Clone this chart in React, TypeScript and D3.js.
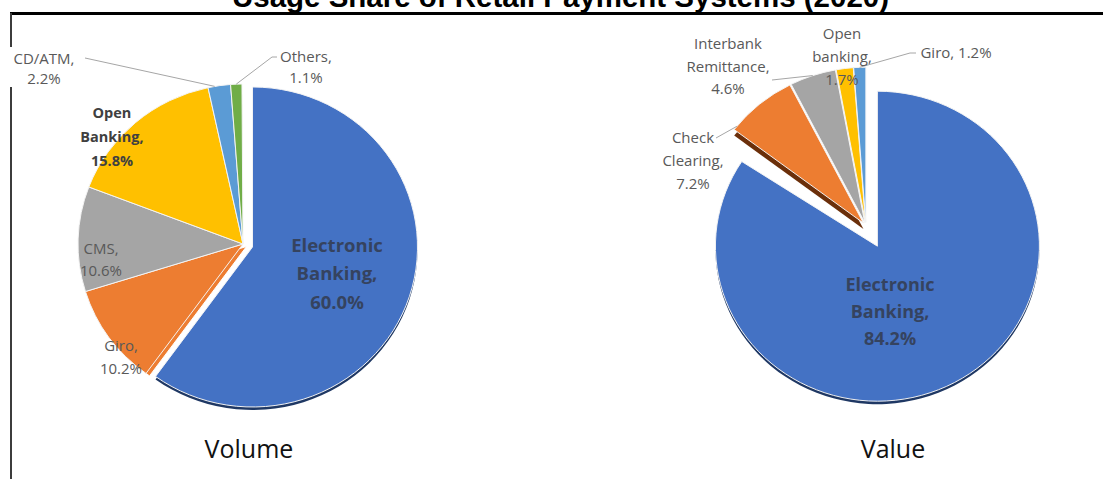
import React from 'react';
import * as d3 from 'd3';

// ---------- data ----------
const titleText = 'Usage Share of Retail Payment Systems (2020)';

const volumeCategories = ['Electronic Banking', 'Giro', 'CMS', 'Open Banking', 'CD/ATM', 'Others'];
const volumeValues = [60.0, 10.2, 10.6, 15.8, 2.2, 1.1];

const valueCategories = ['Electronic Banking', 'Check Clearing', 'Interbank Remittance', 'Open banking', 'Giro'];
const valueValues = [84.2, 7.2, 4.6, 1.7, 1.2];

const chartNames = ['Volume', 'Value'];

// ---------- styles / layout ----------
const palette: Record<string, string> = {
  'Electronic Banking': '#4472C4',
  Giro: '#5B9BD5',
  CMS: '#A5A5A5',
  'Open Banking': '#FFC000',
  'Open banking': '#FFC000',
  'CD/ATM': '#5B9BD5',
  Others: '#70AD47',
  'Check Clearing': '#ED7D31',
  'Interbank Remittance': '#A5A5A5',
};
const volumePalette: Record<string, string> = { ...palette, Giro: '#ED7D31' };

const FONT = '"Open Sans", "Noto Sans", sans-serif';

type LabelLayout = {
  x: number; y: number; gap: number; size: number; bold?: boolean; color: string;
  leaderFrom?: [number, number][]; leaderFrac?: number; lines: (v: number, c: string) => string[];
};

const twoLine = (v: number, c: string) => [c + ',', v.toFixed(1) + '%'];
const wordLines = (v: number, c: string) => {
  const w = c.split(' ');
  return [...w.slice(0, -1), w[w.length - 1] + ',', v.toFixed(1) + '%'];
};

const volumeLabels: Record<string, LabelLayout> = {
  'Electronic Banking': { x: 337, y: 244, gap: 28.5, size: 18.5, bold: true, color: '#35435f', lines: wordLines },
  'Open Banking': { x: 112, y: 112, gap: 24, size: 14.5, bold: true, color: '#404040', lines: wordLines },
  CMS: { x: 101, y: 248, gap: 22, size: 15, color: '#595959', lines: twoLine },
  Giro: { x: 121, y: 345, gap: 23, size: 15, color: '#595959', lines: twoLine },
  'CD/ATM': { x: 44, y: 58, gap: 20, size: 15, color: '#595959', lines: twoLine, leaderFrom: [[85, 58]], leaderFrac: 0.3 },
  Others: { x: 306, y: 56, gap: 21, size: 15, color: '#595959', lines: twoLine, leaderFrom: [[277, 57], [272, 57]], leaderFrac: 0.5 },
};

const valueLabels: Record<string, LabelLayout> = {
  'Electronic Banking': { x: 890, y: 284, gap: 27, size: 18, bold: true, color: '#35435f', lines: wordLines },
  'Check Clearing': { x: 693, y: 137, gap: 23, size: 15, color: '#595959', lines: wordLines, leaderFrom: [[716, 138]], leaderFrac: 0.06 },
  'Interbank Remittance': { x: 728, y: 43, gap: 22.5, size: 15, color: '#595959', lines: wordLines, leaderFrom: [[772, 80]], leaderFrac: 0.5 },
  'Open banking': { x: 842, y: 33, gap: 23, size: 15, color: '#595959', lines: wordLines },
  Giro: { x: 956, y: 52, gap: 20, size: 15, color: '#595959', lines: (v, c) => [c + ', ' + v.toFixed(1) + '%'], leaderFrom: [[916, 53], [910, 53]], leaderFrac: 0.5 },
};

type Slice = { cat: string; value: number; start: number; end: number; explode: number };

const TAU = Math.PI * 2;

function volumeSlices(): Slice[] {
  const total = d3.sum(volumeValues);
  const arcs = d3.pie<number>().sort(null).startAngle(0).endAngle((TAU * total) / 100)(volumeValues);
  return arcs.map((a, i) => ({
    cat: volumeCategories[i], value: volumeValues[i], start: a.startAngle, end: a.endAngle,
    explode: i === 0 ? 10 : 0,
  }));
}

function valueSlices(): Slice[] {
  const main = d3.pie<number>().sort(null).startAngle(0).endAngle((TAU * valueValues[0]) / 100)([valueValues[0]]);
  const rest = valueValues.slice(1);
  const restArcs = d3.pie<number>().sort(null)
    .startAngle(TAU * (1 - d3.sum(rest) / 100)).endAngle(TAU)(rest);
  return [
    { cat: valueCategories[0], value: valueValues[0], start: main[0].startAngle, end: main[0].endAngle, explode: 24 },
    ...restArcs.map((a, i) => ({
      cat: valueCategories[i + 1], value: rest[i], start: a.startAngle, end: a.endAngle, explode: 4,
    })),
  ];
}

type PieProps = {
  slices: Slice[]; cx: number; cy: number; rx: number; ry: number;
  colors: Record<string, string>; labels: Record<string, LabelLayout>;
  shadowCats: Record<string, { dx: number; dy: number; color: string; stroke?: string }>;
};

function Pie({ slices, cx, cy, rx, ry, colors, labels, shadowCats }: PieProps) {
  const arc = d3.arc<any>().innerRadius(0).outerRadius(rx);
  const k = ry / rx;
  const center = (s: Slice) => {
    const mid = (s.start + s.end) / 2;
    return [cx + Math.sin(mid) * s.explode, cy - Math.cos(mid) * s.explode * k];
  };
  const pathD = (s: Slice) => arc({ startAngle: s.start, endAngle: s.end }) as string;
  const edgePoint = (s: Slice, frac: number) => {
    const a = s.start + (s.end - s.start) * frac;
    const [x, y] = center(s);
    return [x + Math.sin(a) * rx, y - Math.cos(a) * ry];
  };
  return (
    <g>
      {slices.filter((s) => shadowCats[s.cat]).map((s) => {
        const [x, y] = center(s);
        const sh = shadowCats[s.cat];
        return (
          <path key={'sh' + s.cat} d={pathD(s)} fill={sh.color} stroke={sh.stroke || 'none'} strokeWidth={1}
            transform={`translate(${x + sh.dx},${y + sh.dy}) scale(1,${k})`} />
        );
      })}
      {slices.map((s) => {
        const [x, y] = center(s);
        return (
          <path key={s.cat} d={pathD(s)} fill={colors[s.cat]} stroke="#f4f4f4" strokeWidth={1}
            strokeLinejoin="round" transform={`translate(${x},${y}) scale(1,${k})`} />
        );
      })}
      {slices.filter((s) => labels[s.cat] && labels[s.cat].leaderFrom).map((s) => {
        const l = labels[s.cat];
        const p = edgePoint(s, l.leaderFrac ?? 0.5);
        const pts = [...(l.leaderFrom as [number, number][]), p];
        return (
          <polyline key={'ld' + s.cat} points={pts.map((q) => q.join(',')).join(' ')}
            fill="none" stroke="#a6a6a6" strokeWidth={1} />
        );
      })}
      {slices.filter((s) => labels[s.cat]).map((s) => {
        const l = labels[s.cat];
        const lines = l.lines(s.value, s.cat);
        return (
          <text key={'lb' + s.cat} textAnchor="middle" fontFamily={FONT} fontSize={l.size}
            fontWeight={l.bold ? 700 : 400} fill={l.color}>
            {lines.map((t, i) => (
              <tspan key={i} x={l.x} y={l.y + i * l.gap} dominantBaseline="central">{t}</tspan>
            ))}
          </text>
        );
      })}
    </g>
  );
}

export default function App() {
  const W = 1103, H = 479;
  const vol = volumeSlices();
  const val = valueSlices();
  return (
    <svg width={W} height={H} viewBox={`0 0 ${W} ${H}`}
      style={{ position: 'absolute', left: 0, top: 0, display: 'block', background: '#fff' }}>
      <rect x={0} y={0} width={W} height={H} fill="#fff" />
      <text x={232} y={7} fontFamily='"Liberation Sans", Arial, sans-serif' fontWeight={700} fontSize={29}
        textLength={657} lengthAdjust="spacingAndGlyphs" fill="#000">{titleText}</text>
      <rect x={10} y={12} width={W - 10} height={3} fill="#000" />
      <rect x={10} y={13} width={2} height={H - 13} fill="#3c3c3c" />
      <rect x={3} y={47} width={82} height={40} fill="#fff" />

      <Pie slices={vol} cx={243} cy={244} rx={165} ry={160} colors={volumePalette} labels={volumeLabels}
        shadowCats={{
          'Electronic Banking': { dx: 0, dy: 3, color: '#1f3864' },
          Giro: { dx: 3.5, dy: 2.5, color: '#ED7D31', stroke: '#ffffff' },
        }} />
      <Pie slices={val} cx={866} cy={226} rx={162} ry={155} colors={palette} labels={valueLabels}
        shadowCats={{
          'Electronic Banking': { dx: 0, dy: 3, color: '#1f3864' },
          'Check Clearing': { dx: 0, dy: 6, color: '#6b2f0a' },
        }} />

      <text x={249} y={448} textAnchor="middle" dominantBaseline="central" fontFamily={FONT} fontSize={25} fill="#111">{chartNames[0]}</text>
      <text x={893} y={448} textAnchor="middle" dominantBaseline="central" fontFamily={FONT} fontSize={25} fill="#111">{chartNames[1]}</text>
    </svg>
  );
}
